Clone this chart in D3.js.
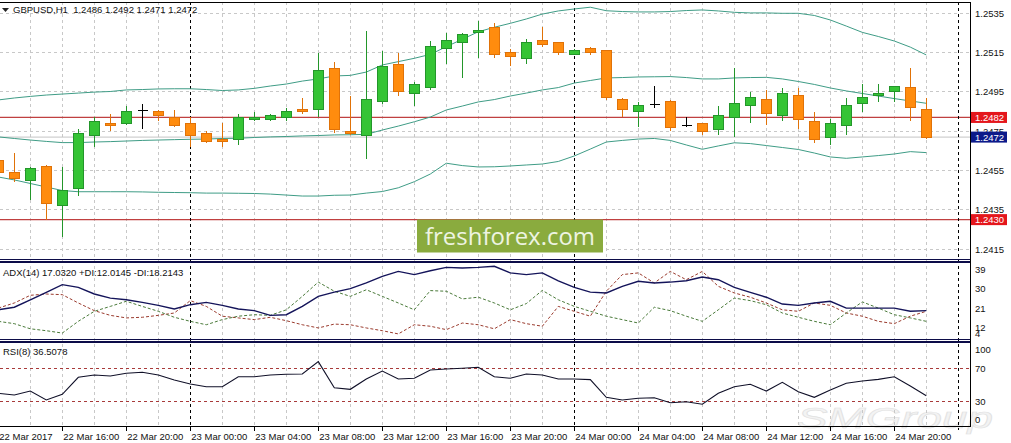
<!DOCTYPE html>
<html>
<head>
<meta charset="utf-8">
<script src="https://cdn.jsdelivr.net/npm/d3@7/dist/d3.min.js"></script>
<style>
    body { margin: 0; background: #ffffff; }
    svg { display: block; font-family: "Liberation Sans", Arial, sans-serif; }
</style>
</head>
<body>
<div id="my-chart"></div>
<script>
// GBPUSD H1 bars, 22 Mar 12:00 .. 24 Mar 22:00 (one value per hour)
const opens = [1.2460, 1.2454, 1.2450, 1.2457, 1.2437, 1.2446, 1.2473, 1.2479, 1.2479, 1.2486,
    1.2485, 1.2482, 1.2479, 1.2474, 1.2471, 1.2471, 1.2481, 1.2481, 1.2482, 1.2486,
    1.2486, 1.2507, 1.2475, 1.2473, 1.2490, 1.2509, 1.2494, 1.2497, 1.2517, 1.2520,
    1.2525, 1.2528, 1.2515, 1.2512, 1.2521, 1.2520, 1.2514, 1.2517, 1.2516, 1.2491,
    1.2485, 1.2489, 1.2490, 1.2478, 1.2479, 1.2476, 1.2482, 1.2488, 1.2491, 1.2483,
    1.2493, 1.2480, 1.2472, 1.2478, 1.2489, 1.2493, 1.2495, 1.2497, 1.2486];
const highs = [1.2461, 1.2464, 1.2457, 1.2458, 1.2457, 1.2476, 1.2482, 1.2484, 1.2488, 1.2489,
    1.2486, 1.2486, 1.2482, 1.2475, 1.2479, 1.2484, 1.2485, 1.2484, 1.2487, 1.2492,
    1.2515, 1.2510, 1.2493, 1.2526, 1.2516, 1.2515, 1.2500, 1.2521, 1.2525, 1.2525,
    1.2531, 1.2530, 1.2517, 1.2522, 1.2528, 1.2520, 1.2517, 1.2518, 1.2516, 1.2492,
    1.2490, 1.2498, 1.2491, 1.2482, 1.2479, 1.2488, 1.2507, 1.2495, 1.2496, 1.2497,
    1.2497, 1.2485, 1.2481, 1.2492, 1.2499, 1.2499, 1.2498, 1.2507, 1.2492];
const lows = [1.2453, 1.2449, 1.2440, 1.2430, 1.2421, 1.2442, 1.2467, 1.2475, 1.2478, 1.2476,
    1.2480, 1.2477, 1.2467, 1.2469, 1.2467, 1.2468, 1.2480, 1.2480, 1.2480, 1.2484,
    1.2482, 1.2474, 1.2473, 1.2461, 1.2489, 1.2493, 1.2488, 1.2496, 1.2509, 1.2502,
    1.2512, 1.2512, 1.2508, 1.2509, 1.2518, 1.2514, 1.2514, 1.2514, 1.2491, 1.2482,
    1.2477, 1.2487, 1.2475, 1.2477, 1.2473, 1.2473, 1.2472, 1.2479, 1.2478, 1.2480,
    1.2476, 1.2469, 1.2468, 1.2473, 1.2485, 1.2490, 1.2490, 1.2480, 1.2471];
const closes = [1.2454, 1.2451, 1.2456, 1.2438, 1.2445, 1.2474, 1.2480, 1.2478, 1.2485, 1.2486,
    1.2483, 1.2478, 1.2473, 1.2470, 1.2470, 1.2482, 1.2482, 1.2483, 1.2485, 1.2485,
    1.2506, 1.2476, 1.2474, 1.2491, 1.2508, 1.2495, 1.2499, 1.2518, 1.2521, 1.2524,
    1.2526, 1.2514, 1.2513, 1.2520, 1.2519, 1.2515, 1.2516, 1.2515, 1.2492, 1.2486,
    1.2488, 1.2489, 1.2477, 1.2478, 1.2475, 1.2483, 1.2489, 1.2492, 1.2484, 1.2494,
    1.2481, 1.2471, 1.2479, 1.2488, 1.2492, 1.2494, 1.2498, 1.2487, 1.2472];

// Bollinger bands
const bbUpper = [1.24909, 1.24919, 1.24927, 1.24934, 1.24939, 1.24944, 1.24949, 1.24952, 1.24960, 1.24962,
    1.24965, 1.24966, 1.24966, 1.24962, 1.24957, 1.24960, 1.24968, 1.24980, 1.24990, 1.25005,
    1.25016, 1.25031, 1.25034, 1.25051, 1.25087, 1.25104, 1.25121, 1.25141, 1.25180, 1.25218,
    1.25256, 1.25279, 1.25299, 1.25321, 1.25346, 1.25362, 1.25372, 1.25381, 1.25363, 1.25359,
    1.25357, 1.25357, 1.25359, 1.25364, 1.25367, 1.25362, 1.25355, 1.25352, 1.25352, 1.25350,
    1.25350, 1.25339, 1.25316, 1.25285, 1.25253, 1.25232, 1.25209, 1.25178, 1.25138];
const bbMiddle = [1.24721, 1.24713, 1.24705, 1.24698, 1.24692, 1.24692, 1.24695, 1.24697, 1.24700, 1.24703,
    1.24705, 1.24707, 1.24709, 1.24710, 1.24713, 1.24714, 1.24718, 1.24721, 1.24723, 1.24726,
    1.24728, 1.24731, 1.24732, 1.24734, 1.24756, 1.24776, 1.24798, 1.24822, 1.24858, 1.24878,
    1.24899, 1.24911, 1.24929, 1.24944, 1.24960, 1.24972, 1.24995, 1.25008, 1.25021, 1.25023,
    1.25026, 1.25027, 1.25028, 1.25023, 1.25016, 1.25016, 1.25021, 1.25023, 1.25024, 1.25016,
    1.25003, 1.24988, 1.24970, 1.24955, 1.24942, 1.24929, 1.24916, 1.24904, 1.24892];
const bbLower = [1.24517, 1.24502, 1.24484, 1.24466, 1.24448, 1.24442, 1.24442, 1.24442, 1.24442, 1.24441,
    1.24439, 1.24438, 1.24437, 1.24435, 1.24435, 1.24434, 1.24433, 1.24430, 1.24425, 1.24420,
    1.24420, 1.24424, 1.24425, 1.24435, 1.24443, 1.24462, 1.24493, 1.24532, 1.24587, 1.24575,
    1.24568, 1.24569, 1.24573, 1.24578, 1.24583, 1.24596, 1.24624, 1.24659, 1.24695, 1.24703,
    1.24710, 1.24713, 1.24703, 1.24680, 1.24658, 1.24675, 1.24691, 1.24687, 1.24677, 1.24667,
    1.24657, 1.24639, 1.24619, 1.24612, 1.24619, 1.24626, 1.24634, 1.24646, 1.24641];

// ADX(14)
const adxMain = [20.2, 21.4, 24.9, 28.4, 32.0, 30.7, 27.6, 25.7, 24.9, 23.7,
    22.3, 20.6, 22.6, 23.7, 22.3, 20.6, 19.8, 17.6, 17.9, 21.8,
    26.5, 28.5, 30.1, 32.8, 35.9, 38.2, 36.7, 38.5, 40.1, 39.8,
    40.1, 40.6, 37.5, 36.7, 37.5, 33.8, 30.7, 28.5, 28.1, 31.2,
    33.6, 32.8, 33.2, 33.8, 35.6, 34.3, 30.7, 28.4, 26.1, 22.9,
    22.3, 23.4, 24.2, 21.0, 21.0, 21.0, 21.0, 19.5, 19.8];
const plusDI = [14.8, 13.7, 11.3, 10.4, 9.3, 14.8, 19.5, 21.8, 24.2, 21.8,
    19.5, 16.7, 14.8, 13.2, 15.6, 17.2, 17.9, 17.6, 20.2, 26.5,
    33.2, 28.9, 26.5, 29.6, 26.5, 23.4, 20.2, 29.2, 28.9, 25.3,
    26.1, 23.4, 20.2, 23.1, 29.3, 24.9, 21.8, 19.5, 17.2, 15.6,
    14.0, 21.4, 19.8, 17.2, 14.8, 20.2, 25.7, 24.5, 22.6, 18.7,
    16.7, 14.8, 13.2, 18.7, 23.9, 21.0, 17.9, 16.4, 14.8];
const minusDI = [21.0, 23.4, 27.0, 27.6, 27.3, 23.4, 19.8, 17.6, 16.4, 16.7,
    17.6, 18.7, 24.5, 21.8, 17.2, 16.4, 15.6, 16.7, 15.1, 13.2,
    11.7, 13.5, 13.2, 11.7, 10.4, 8.9, 13.2, 12.5, 10.9, 14.0,
    13.2, 11.3, 15.6, 13.7, 12.5, 21.8, 19.5, 17.2, 28.9, 36.7,
    37.5, 32.8, 38.2, 34.3, 38.2, 31.2, 28.1, 26.1, 23.4, 20.2,
    19.5, 23.4, 22.3, 18.7, 17.2, 14.8, 13.7, 17.2, 19.5];

// RSI(8)
const rsiValues = [39.4, 37.3, 42.2, 31.2, 38.2, 59.0, 61.8, 60.6, 63.9, 65.1,
    61.8, 55.7, 50.8, 47.5, 47.5, 59.7, 59.7, 61.8, 62.7, 63.0,
    78.1, 46.3, 44.3, 56.9, 66.7, 56.9, 57.8, 67.9, 69.1, 70.0,
    71.2, 59.7, 57.8, 63.0, 61.8, 56.9, 56.9, 56.1, 34.5, 31.2,
    33.3, 34.0, 27.9, 29.1, 26.0, 39.4, 47.5, 50.4, 42.2, 52.9,
    41.4, 34.5, 43.5, 51.7, 54.5, 56.5, 59.7, 48.3, 36.5];

// axis labels
const timeLabels = ["22 Mar 2017", "22 Mar 16:00", "22 Mar 20:00", "23 Mar 00:00", "23 Mar 04:00",
    "23 Mar 08:00", "23 Mar 12:00", "23 Mar 16:00", "23 Mar 20:00", "24 Mar 00:00",
    "24 Mar 04:00", "24 Mar 08:00", "24 Mar 12:00", "24 Mar 16:00", "24 Mar 20:00"];
const timeLabelBars = [0, 4, 8, 12, 16, 20, 24, 28, 32, 36, 40, 44, 48, 52, 56];
const daySeparators = [12, 36, 60];
const priceTicks = [1.2535, 1.2515, 1.2495, 1.2475, 1.2455, 1.2435, 1.2415];
const adxTicks = [39, 30, 21, 12, 4];
const rsiTicks = [100, 70, 30, 0];
const rsiLevels = [70, 30];
const redLevels = [1.2482, 1.2430];
const bidPrice = 1.2472;

function drawChart() {
    let dims = { width: 1011, height: 443, right: 970 };
    let panels = {
        main: { top: 2, bottom: 259.5 },
        adx: { top: 262, bottom: 339.5 },
        rsi: { top: 342, bottom: 426 }
    };

    let svg = d3.select("#my-chart")
        .append("svg")
        .attr("width", dims.width)
        .attr("height", dims.height);

    let xAxis = d3.scaleLinear().domain([0, 60]).range([-1.7, 958.3]);
    let yPrice = d3.scaleLinear().domain([1.2535, 1.2415]).range([13.3, 249.1]);
    let yAdx = d3.scaleLinear().domain([39, 12]).range([269.7, 327.3]);
    let yRsi = d3.scaleLinear().domain([70, 30]).range([368.3, 401]);
    let bars = d3.range(opens.length);

    // clip regions for each window
    let defs = svg.append("defs");
    for (let key of Object.keys(panels)) {
        defs.append("clipPath")
            .attr("id", "clip-" + key)
            .append("rect")
            .attr("x", 0)
            .attr("y", panels[key].top)
            .attr("width", dims.right)
            .attr("height", panels[key].bottom - panels[key].top);
    }

    // faint watermark at the bottom right
    svg.append("text")
        .attr("x", 797)
        .attr("y", 428)
        .attr("textLength", 196)
        .attr("lengthAdjust", "spacingAndGlyphs")
        .style("font-size", "30px")
        .style("font-style", "italic")
        .attr("fill", "#f3f3f3")
        .attr("stroke", "#e2e2e2")
        .attr("stroke-width", 0.7)
        .text("SMGroup");

    // grid
    let grid = svg.append("g")
        .attr("stroke", "#c8c8c8")
        .attr("stroke-dasharray", "3,3")
        .attr("shape-rendering", "crispEdges");
    grid.selectAll("line.v")
        .data(d3.range(2, 60, 2))
        .enter()
        .append("line")
        .attr("x1", function(d) { return xAxis(d); })
        .attr("x2", function(d) { return xAxis(d); })
        .attr("y1", panels.main.top)
        .attr("y2", panels.rsi.bottom);
    grid.selectAll("line.h")
        .data(priceTicks)
        .enter()
        .append("line")
        .attr("x1", 0)
        .attr("x2", dims.right)
        .attr("y1", function(d) { return yPrice(d); })
        .attr("y2", function(d) { return yPrice(d); });

    // bid line and the red levels
    svg.append("line")
        .attr("x1", 0).attr("x2", dims.right)
        .attr("y1", yPrice(bidPrice)).attr("y2", yPrice(bidPrice))
        .attr("stroke", "#c4c4c4");
    svg.selectAll("line.level")
        .data(redLevels)
        .enter()
        .append("line")
        .attr("x1", 0).attr("x2", dims.right)
        .attr("y1", function(d) { return yPrice(d); })
        .attr("y2", function(d) { return yPrice(d); })
        .attr("stroke", "#c04040")
        .attr("stroke-width", 1.2);

    // day separators
    svg.selectAll("line.sep")
        .data(daySeparators)
        .enter()
        .append("line")
        .attr("x1", function(d) { return Math.round(xAxis(d)) + 0.5; })
        .attr("x2", function(d) { return Math.round(xAxis(d)) + 0.5; })
        .attr("y1", panels.main.top)
        .attr("y2", panels.rsi.bottom + 4)
        .attr("stroke", "#000")
        .attr("stroke-dasharray", "3,3");

    // --- main window ---
    let main = svg.append("g").attr("clip-path", "url(#clip-main)");

    let bandLine = function(values) {
        return d3.line()
            .x(function(d) { return xAxis(d); })
            .y(function(d) { return yPrice(values[d]); })(bars);
    };
    for (let band of [bbUpper, bbMiddle, bbLower]) {
        main.append("path")
            .attr("d", bandLine(band))
            .attr("fill", "none")
            .attr("stroke", "#3f9c86")
            .attr("stroke-width", 1);
    }

    let candleColor = function(i) {
        if (closes[i] > opens[i]) return { fill: "#35c435", stroke: "#23962a" };
        if (closes[i] < opens[i]) return { fill: "#ff8c0e", stroke: "#e07208" };
        return { fill: "#000", stroke: "#000" };
    };
    let candles = main.append("g")
        .attr("shape-rendering", "crispEdges")
        .selectAll("g")
        .data(bars)
        .enter()
        .append("g");
    candles.append("line")
        .attr("x1", function(i) { return Math.round(xAxis(i)) + 0.5; })
        .attr("x2", function(i) { return Math.round(xAxis(i)) + 0.5; })
        .attr("y1", function(i) { return yPrice(highs[i]); })
        .attr("y2", function(i) { return yPrice(lows[i]); })
        .attr("stroke", function(i) { return candleColor(i).stroke; });
    candles.append("rect")
        .attr("x", function(i) { return Math.round(xAxis(i)) - 4.5; })
        .attr("width", 10)
        .attr("y", function(i) { return yPrice(Math.max(opens[i], closes[i])); })
        .attr("height", function(i) {
            return Math.max(1, yPrice(Math.min(opens[i], closes[i])) - yPrice(Math.max(opens[i], closes[i])));
        })
        .attr("fill", function(i) { return candleColor(i).fill; })
        .attr("stroke", function(i) { return candleColor(i).stroke; })
        .attr("stroke-width", function(i) { return opens[i] == closes[i] ? 0 : 1; });

    // --- ADX window ---
    let adxG = svg.append("g").attr("clip-path", "url(#clip-adx)");
    let adxLine = function(values) {
        return d3.line()
            .x(function(d) { return xAxis(d); })
            .y(function(d) { return yAdx(values[d]); })(bars);
    };
    adxG.append("path")
        .attr("d", adxLine(minusDI))
        .attr("fill", "none")
        .attr("stroke", "#9a3b2e")
        .attr("stroke-dasharray", "3,2");
    adxG.append("path")
        .attr("d", adxLine(plusDI))
        .attr("fill", "none")
        .attr("stroke", "#4a7a3a")
        .attr("stroke-dasharray", "3,2");
    adxG.append("path")
        .attr("d", adxLine(adxMain))
        .attr("fill", "none")
        .attr("stroke", "#14145a")
        .attr("stroke-width", 1.4);

    // --- RSI window ---
    let rsiG = svg.append("g").attr("clip-path", "url(#clip-rsi)");
    rsiG.selectAll("line.lvl")
        .data(rsiLevels)
        .enter()
        .append("line")
        .attr("x1", 0).attr("x2", dims.right)
        .attr("y1", function(d) { return Math.round(yRsi(d)) + 0.5; })
        .attr("y2", function(d) { return Math.round(yRsi(d)) + 0.5; })
        .attr("stroke", "#a83a3a")
        .attr("stroke-dasharray", "3,3");
    rsiG.append("path")
        .attr("d", d3.line()
            .x(function(d) { return xAxis(d); })
            .y(function(d) { return yRsi(rsiValues[d]); })(bars))
        .attr("fill", "none")
        .attr("stroke", "#101028")
        .attr("stroke-width", 1.1);

    // window borders
    let frame = svg.append("g").attr("shape-rendering", "crispEdges");
    frame.append("line")
        .attr("x1", 0).attr("x2", dims.right + 0.5)
        .attr("y1", 2.5).attr("y2", 2.5)
        .attr("stroke", "#000");
    for (let y of [panels.main.bottom, panels.adx.top, panels.adx.bottom, panels.rsi.top]) {
        frame.append("line")
            .attr("x1", 0).attr("x2", dims.right)
            .attr("y1", y).attr("y2", y)
            .attr("stroke", "#0c0c48")
            .attr("stroke-width", 1.2);
    }
    frame.append("line")
        .attr("x1", 0).attr("x2", dims.right + 0.5)
        .attr("y1", panels.rsi.bottom + 0.5).attr("y2", panels.rsi.bottom + 0.5)
        .attr("stroke", "#000");
    frame.append("line")
        .attr("x1", dims.right + 0.5).attr("x2", dims.right + 0.5)
        .attr("y1", 2).attr("y2", panels.rsi.bottom + 0.5)
        .attr("stroke", "#000");

    // time axis
    frame.selectAll("line.tick")
        .data(timeLabelBars)
        .enter()
        .append("line")
        .attr("x1", function(d) { return Math.round(xAxis(d)) + 0.5; })
        .attr("x2", function(d) { return Math.round(xAxis(d)) + 0.5; })
        .attr("y1", panels.rsi.bottom)
        .attr("y2", panels.rsi.bottom + 5)
        .attr("stroke", "#000");
    svg.selectAll("text.time")
        .data(timeLabels)
        .enter()
        .append("text")
        .attr("x", function(d, i) { return xAxis(timeLabelBars[i]) + 1; })
        .attr("y", 440)
        .style("font-size", "9.5px")
        .attr("fill", "#111")
        .text(function(d) { return d; });

    // right scale labels
    let axisText = function(y, label) {
        svg.append("text")
            .attr("x", 975)
            .attr("y", y + 3.5)
            .style("font-size", "9.5px")
            .attr("fill", "#111")
            .text(label);
    };
    for (let p of priceTicks) {
        axisText(yPrice(p), p.toFixed(4));
    }
    for (let v of adxTicks) {
        let y = Math.max(panels.adx.top + 7, Math.min(panels.adx.bottom - 6, yAdx(v)));
        axisText(y, v);
    }
    for (let v of rsiTicks) {
        let y = Math.max(panels.rsi.top + 7, Math.min(panels.rsi.bottom - 7, yRsi(v)));
        axisText(y, v);
    }

    // price boxes on the scale
    let boxes = redLevels.map(function(p) { return { price: p, color: "#e4161c" }; });
    boxes.push({ price: bidPrice, color: "#0c1a8a" });
    let box = svg.selectAll("g.box")
        .data(boxes)
        .enter()
        .append("g");
    box.append("rect")
        .attr("x", 971)
        .attr("y", function(d) { return yPrice(d.price) - 5.5; })
        .attr("width", 36)
        .attr("height", 11)
        .attr("fill", function(d) { return d.color; });
    box.append("text")
        .attr("x", 975)
        .attr("y", function(d) { return yPrice(d.price) + 3.5; })
        .style("font-size", "9.5px")
        .attr("fill", "#fff")
        .text(function(d) { return d.price.toFixed(4); });

    // window titles
    svg.append("path")
        .attr("d", "M2,8 L9,8 L5.5,12 Z")
        .attr("fill", "#222");
    svg.append("text")
        .attr("x", 13)
        .attr("y", 13)
        .style("font-size", "9.5px")
        .style("white-space", "pre")
        .attr("fill", "#111")
        .text("GBPUSD,H1  " + [opens[58], highs[58], lows[58], closes[58]].map(function(v) { return v.toFixed(4); }).join(" "));
    svg.append("text")
        .attr("x", 3)
        .attr("y", 276)
        .style("font-size", "9.5px")
        .attr("fill", "#111")
        .text("ADX(14) 17.0320 +DI:12.0145 -DI:18.2143");
    svg.append("text")
        .attr("x", 3)
        .attr("y", 355)
        .style("font-size", "9.5px")
        .attr("fill", "#111")
        .text("RSI(8) 36.5078");

    // freshforex badge
    svg.append("rect")
        .attr("x", 417)
        .attr("y", 219.5)
        .attr("width", 186)
        .attr("height", 33)
        .attr("fill", "#8aab3e");
    svg.append("text")
        .attr("x", 425)
        .attr("y", 245)
        .attr("textLength", 170)
        .attr("lengthAdjust", "spacingAndGlyphs")
        .style("font-family", "'Open Sans', sans-serif")
        .style("font-size", "24px")
        .attr("fill", "#eef4e2")
        .text("freshforex.com");
}

drawChart();
</script>
</body>
</html>
